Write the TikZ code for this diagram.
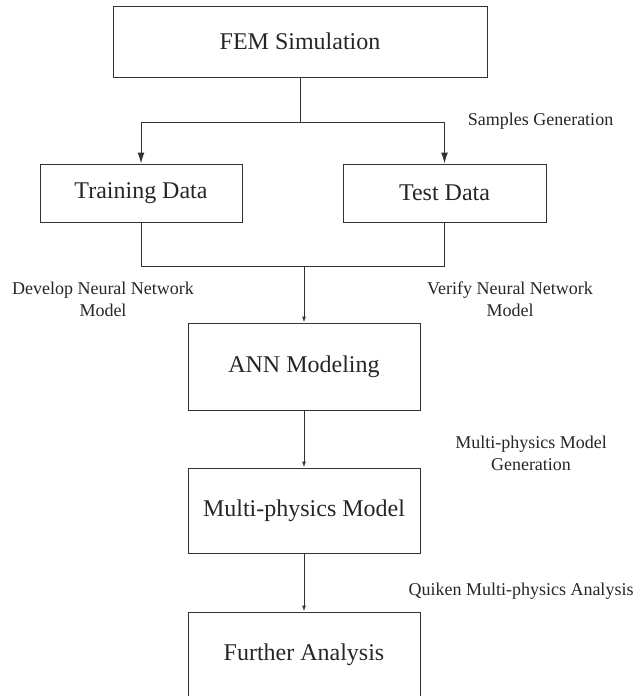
\documentclass[tikz,border=0pt]{standalone}
\usepackage{fontspec}
\setmainfont{Liberation Serif}
\usepackage{tikz}
\usetikzlibrary{arrows.meta,calc}

\begin{document}
\begin{tikzpicture}[x=1pt,y=1pt,
  box/.style={draw=black!80,line width=1pt,inner sep=0pt,font=\fontsize{24}{28}\selectfont,text=black!85},
  lbl/.style={font=\fontsize{18}{22}\selectfont,align=center,text=black!85,inner sep=0pt},
  conn/.style={draw=black!80,line width=1pt},
  arr/.style={conn,-{Latex[length=11pt,width=7pt]}},
  arrs/.style={conn,-{Latex[length=6pt,width=4pt]}}]
  \useasboundingbox (0,0) rectangle (636,-696);
  % boxes
  \node[box,minimum width=374pt,minimum height=71pt] (fem) at (300,-41.5) {FEM Simulation};
  \node[box,minimum width=202pt,minimum height=58pt] (train) at (141,-193) {Training Data};
  \node[box,minimum width=203pt,minimum height=58pt] (test) at (444.5,-193) {Test Data};
  \node[box,minimum width=232pt,minimum height=87pt] (ann) at (304,-366.5) {ANN Modeling};
  \node[box,minimum width=232pt,minimum height=85pt] (multi) at (304,-510.5) {Multi-physics Model};
  \node[box,minimum width=232pt,minimum height=85pt] (further) at (304,-654.5) {Further Analysis};
  % branch points
  \coordinate (split) at (300,-122);
  \coordinate (join) at (304,-266);
  % connectors
  \draw[conn] (fem.south) -- (split);
  \draw[arr] (split) -| (train.north);
  \draw[arr] (split) -| (test.north);
  \draw[conn] (train.south) |- (join);
  \draw[conn] (test.south) |- (join);
  \draw[arrs] (join) -- (ann.north);
  \draw[arrs] (ann.south) -- (multi.north);
  \draw[arrs] (multi.south) -- (further.north);
  % labels
  \node[lbl,anchor=base] (lsamp) at (540.5,-125) {Samples Generation};
  \node[lbl] (ldev) at (103,-299) {Develop Neural Network\\Model};
  \node[lbl] (lver) at (510,-299) {Verify Neural Network\\Model};
  \node[lbl] (lgen) at (531,-453) {Multi-physics Model\\Generation};
  \node[lbl] (lqui) at (521,-591) {Quiken Multi-physics Analysis};
\end{tikzpicture}
\end{document}
